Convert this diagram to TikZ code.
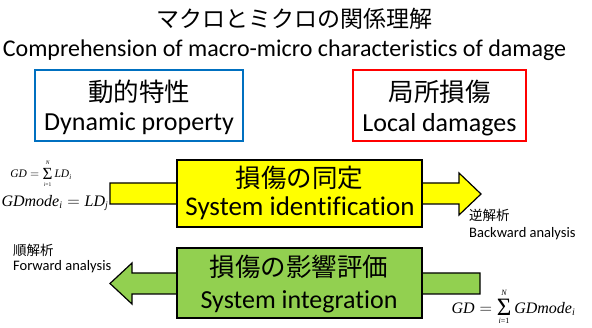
\documentclass[tikz,border=0pt]{standalone}
\usepackage{fontspec}
\setmainfont{Carlito}[Ligatures=NoCommon]
\newfontfamily\jpfont{Noto Sans CJK JP}
\newfontfamily\timesface{Liberation Serif}
\newcommand{\fsz}[1]{\fontsize{#1}{#1}\selectfont}
\definecolor{myblue}{RGB}{0,112,192}
\definecolor{myred}{RGB}{255,0,0}
\definecolor{myyellow}{RGB}{255,255,0}
\definecolor{mygreen}{RGB}{146,208,80}
\begin{document}
\begin{tikzpicture}[x=1pt,y=-1pt,
  frame/.style={draw,line width=1.8pt,minimum width=#1,minimum height=71pt,inner sep=0pt},
  jptext/.style={font=\jpfont\fontsize{25.5}{28}\selectfont,inner sep=0pt},
  entext/.style={font=\fontsize{26}{28}\selectfont,inner sep=0pt},
  smalljp/.style={font=\jpfont\fontsize{13.5}{15}\selectfont,inner sep=0pt,anchor=west},
  smallen/.style={font=\fontsize{14.5}{16}\selectfont,inner sep=0pt,anchor=west},
  formula/.style={inner sep=0pt,font=\timesface},
  blockshape/.style={draw,line width=1.2pt,line join=miter}]
\useasboundingbox (0,0) rectangle (592,328);
% titles
\node[inner sep=0pt,font=\jpfont\fontsize{23}{26}\selectfont] (title) at (294.5,18.5) {マクロとミクロの関係理解};
\node[inner sep=0pt,font=\fontsize{24}{27}\selectfont] (subtitle) at (284.5,50) {Comprehension of macro-micro characteristics of damage};
% top boxes
\node[frame=208pt,draw=myblue] (blue) at (139,105.5) {};
\node[jptext] (dyjp) at (139,92) {動的特性};
\node[entext] (dyen) at (139,124) {Dynamic property};
\node[frame=173pt,draw=myred] (red) at (439.5,105.5) {};
\node[jptext] (lcjp) at (439.5,92) {局所損傷};
\node[entext] (lcen) at (439.5,125) {Local damages};
% yellow arrow
\draw[blockshape,fill=myyellow] (110,183) -- (459,183) -- (459,173) -- (481,194) -- (459,215) -- (459,204) -- (110,204) -- cycle;
\node[blockshape,fill=myyellow,minimum width=245pt,minimum height=67pt,inner sep=0pt] (ybox) at (299.5,193.5) {};
\node[jptext] (idjp) at (299.5,177.5) {損傷の同定};
\node[entext,font=\fontsize{27}{29}\selectfont] (iden) at (300,208.5) {System identification};
% green arrow
\draw[blockshape,fill=mygreen] (480,273) -- (132,273) -- (132,263) -- (110,283.5) -- (132,304) -- (132,294) -- (480,294) -- cycle;
\node[blockshape,fill=mygreen,minimum width=245pt,minimum height=70pt,inner sep=0pt] (gbox) at (299.5,283) {};
\node[jptext] (injp) at (299,266.5) {損傷の影響評価};
\node[entext] (inen) at (299,301.5) {System integration};
% analysis labels
\node[smalljp] (bkjp) at (469,215) {逆解析};
\node[smallen] (bken) at (469,234) {Backward analysis};
\node[smalljp] (fwjp) at (13,250) {順解析};
\node[smallen] (fwen) at (13,266.5) {Forward analysis};
% formulas
\node[formula,font=\timesface\fsz{11.5}] (f1) at (41,174)
  {$\hbox{\itshape GD}=\mathop{\raisebox{-1.5pt}{\fsz{17}Σ}}\limits_{\raisebox{-1.5pt}{\fsz{5.5}\itshape i\upshape=1}}^{\raisebox{1pt}{\fsz{5.5}\itshape N}}\hbox{\itshape LD}_{\hbox{\fsz{7}\itshape i}}$};
\node[formula,font=\timesface\fsz{16}] (f2) at (55,203)
  {$\hbox{\itshape GDmode}_{\hbox{\fsz{10}\itshape i}}=\hbox{\itshape LD}_{\hbox{\fsz{10}\itshape j}}$};
\node[formula,font=\timesface\fsz{16}] (f3) at (513.5,307)
  {$\hbox{\itshape GD}=\mathop{\raisebox{-2pt}{\fsz{25}Σ}}\limits_{\raisebox{-2pt}{\fsz{8}\itshape i\upshape=1}}^{\raisebox{1pt}{\fsz{8}\itshape N}}\hbox{\itshape GDmode}_{\hbox{\fsz{10}\itshape i}}$};
\end{tikzpicture}
\end{document}
